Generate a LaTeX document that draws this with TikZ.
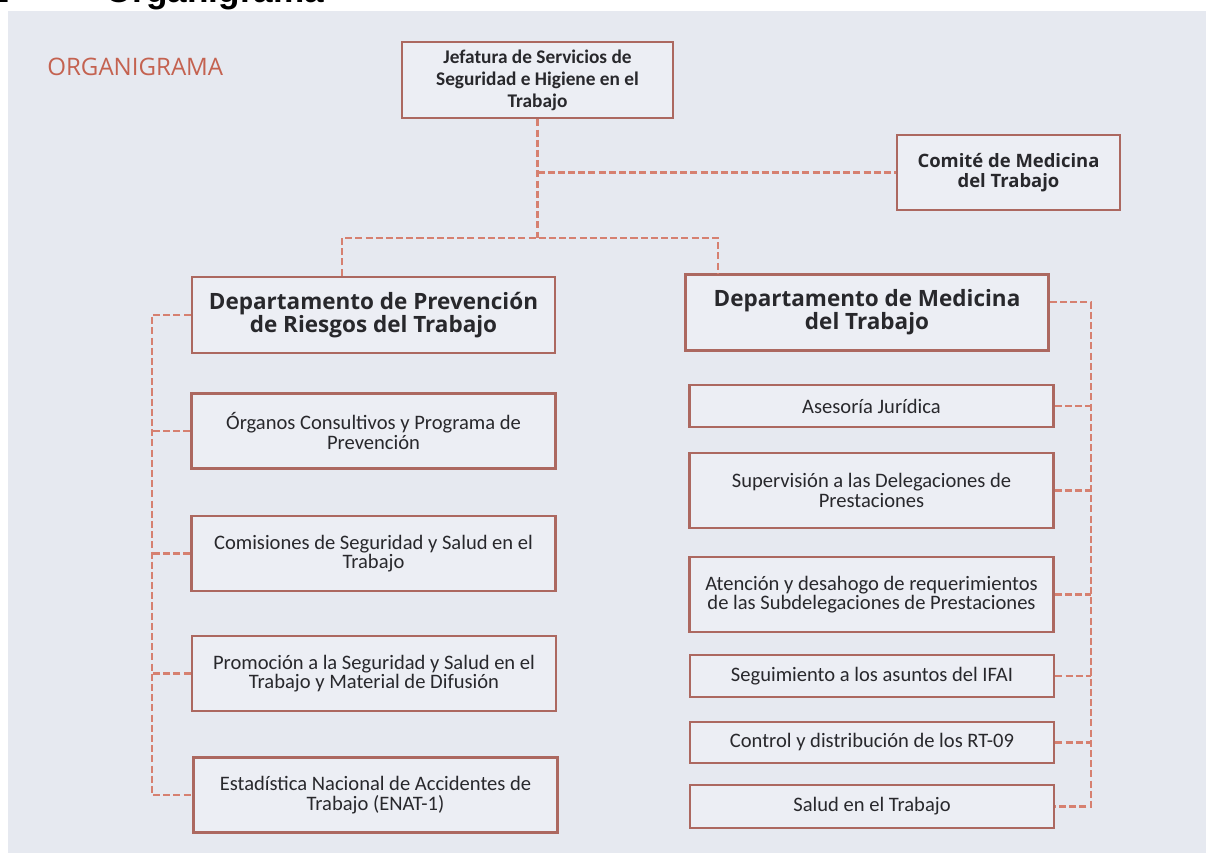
\documentclass[tikz,border=0pt]{standalone}
\usepackage{fontspec}
\setmainfont{Carlito}
\newfontfamily\opensans{Open Sans}
\newfontfamily\arialfont{Liberation Sans}
\usepackage{tikz}
\usetikzlibrary{calc}

\definecolor{fondo}{RGB}{230,233,240}
\definecolor{cajafondo}{RGB}{236,238,244}
\definecolor{borde}{RGB}{172,104,96}
\definecolor{lineaorg}{RGB}{214,128,112}
\definecolor{texto}{RGB}{40,40,44}
\definecolor{orgtexto}{RGB}{196,98,80}

\begin{document}
\begin{tikzpicture}[x=0.02cm, y=-0.02cm]
			\tikzstyle{caja} = [draw=borde, line width=1.6pt, fill=cajafondo, align=center, inner sep=2pt, text=texto]
			\tikzstyle{jefe} = [caja, font=\bfseries\fontsize{11}{12.5}\selectfont, minimum width=5.42cm, minimum height=1.52cm]
			\tikzstyle{comite} = [caja, font=\opensans\bfseries\fontsize{10.5}{11.5}\selectfont, minimum width=4.46cm, minimum height=1.5cm]
			\tikzstyle{depto} = [caja, font=\opensans\bfseries\fontsize{12.8}{13.2}\selectfont, minimum width=7.26cm, minimum height=1.52cm]
			\tikzstyle{area} = [caja, font=\fontsize{11.7}{11.2}\selectfont, minimum width=7.28cm, minimum height=1.5cm]
			\tikzstyle{liga} = [draw=lineaorg, line width=1.4pt, dash pattern=on 4pt off 1.8pt]

			\useasboundingbox (0,0) rectangle (1206,853);
			\fill[white] (0,0) rectangle (1206,853);
			\fill[fondo] (8,11) rectangle (1206,853);

			% encabezado cortado
			\node[anchor=base east, inner sep=0pt, font=\arialfont\bfseries\fontsize{20}{22}\selectfont] (num) at (9,2) {1};
			\node[anchor=base west, inner sep=0pt, font=\arialfont\bfseries\fontsize{20}{22}\selectfont] (titulo) at (105,2) {Organigrama};
			\node[anchor=west, inner sep=0pt, text=orgtexto, font=\opensans\fontsize{13.7}{16}\selectfont] (org) at (47,67) {ORGANIGRAMA};

			\begin{scope}
			\path
			node[jefe] (jef) at (537.5,80) {Jefatura de Servicios de\\Seguridad e Higiene en el\\Trabajo}
			node[comite] (com) at (1008.5,172.5) {Comité de Medicina\\del Trabajo}
			node[depto] (dpr) at (373.5,315) {Departamento de Prevención\\de Riesgos del Trabajo}
			node[depto] (dmt) at (867,312.5) {Departamento de Medicina\\del Trabajo}
			node[area] (p1) at (373.5,431) {Órganos Consultivos y Programa de\\Prevención}
			node[area] (p2) at (373.5,553.5) {Comisiones de Seguridad y Salud en el\\Trabajo}
			node[area] (p3) at (374,673.5) {Promoción a la Seguridad y Salud en el\\Trabajo y Material de Difusión}
			node[area] (p4) at (375.5,795) {Estadística Nacional de Accidentes de\\Trabajo (ENAT-1)}
			node[area, minimum height=0.84cm] (m1) at (871.5,406) {Asesoría Jurídica}
			node[area] (m2) at (871.5,490.5) {Supervisión a las Delegaciones de\\Prestaciones}
			node[area] (m3) at (871.5,594.5) {Atención y desahogo de requerimientos\\de las Subdelegaciones de Prestaciones}
			node[area, minimum height=0.84cm] (m4) at (872,676) {Seguimiento a los asuntos del IFAI}
			node[area, minimum height=0.82cm] (m5) at (872,742.5) {Control y distribución de los RT-09}
			node[area, minimum height=0.86cm] (m6) at (872,806.5) {Salud en el Trabajo}
			;
			\coordinate (cruce) at (537.5,238);
			\coordinate (enlL) at (342,238);
			\coordinate (enlR) at (718,238);
			\coordinate (busL) at (152,315);
			\coordinate (busR) at (1091,302);

			\draw[liga] (jef) -- (cruce);
			\draw[liga] (jef.south |- com.west) -- (com.west);
			\draw[liga] (enlL |- dpr.north) -- (enlL) -- (enlR) -- (enlR |- dmt.north);
			\draw[liga] (dpr.west) -- (busL) -- (busL |- p4.west) -- (p4.west);
			\foreach \n in {p1,p2,p3}
				\draw[liga] (\n.west) -- (\n.west -| busL);
			\draw[liga] (dmt.east |- busR) -- (busR) -- (busR |- m6.east) -- (m6.east);
			\foreach \n in {m1,m2,m3,m4,m5}
				\draw[liga] (\n.east) -- (\n.east -| busR);
			\end{scope}
\end{tikzpicture}
\end{document}
